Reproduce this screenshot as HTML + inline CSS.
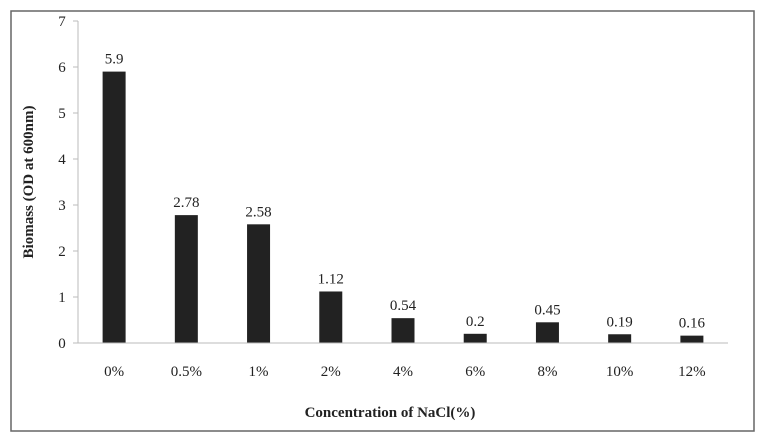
<!DOCTYPE html>
<html><head><meta charset="utf-8"><style>
html,body{margin:0;padding:0;background:#fff;}
svg text{font-family:"Liberation Serif",serif;fill:#222;}
</style></head><body>
<svg width="768" height="443" id="c">
<rect x="11" y="11" width="743" height="420" fill="#fff" stroke="#666" stroke-width="1.5"/>
<g id="plot"></g>
<text x="33" y="182" font-size="15" font-weight="bold" text-anchor="middle" transform="rotate(-90 33 182)">Biomass (OD at 600nm)</text>
<text x="390" y="417" font-size="15" font-weight="bold" text-anchor="middle">Concentration of NaCl(%)</text>
</svg>
<script>
const categories=["0%","0.5%","1%","2%","4%","6%","8%","10%","12%"];
const values=[5.9,2.78,2.58,1.12,0.54,0.2,0.45,0.19,0.16];
const valueLabels=["5.9","2.78","2.58","1.12","0.54","0.2","0.45","0.19","0.16"];
const yTicks=[0,1,2,3,4,5,6,7];
const NS="http://www.w3.org/2000/svg";
const g=document.getElementById('plot');
const x0=78,x1=728,y0=343,yTop=21,yMax=7;
const bw=(x1-x0)/categories.length;
function y(v){return y0-(v/yMax)*(y0-yTop);}
function xc(i){return x0+bw*(i+0.5);}
function mk(t,a){const e=document.createElementNS(NS,t);for(const k in a)e.setAttribute(k,a[k]);g.appendChild(e);return e;}
let ax=mk('line',{x1:x0,y1:y(yMax),x2:x0,y2:y0,stroke:'#bbb','stroke-width':1});


yTicks.forEach(t=>{
 const tl=mk('line',{x1:x0-5,y1:y(t),x2:x0,y2:y(t),stroke:'#bbb'});
 
 
 const tx=mk('text',{x:62,y:y(t)+5,'font-size':15,'text-anchor':'middle'});
 tx.textContent=t;
 
 
});
categories.forEach((c,i)=>{
 const b=mk('rect',{x:xc(i)-11.5,y:y(values[i]),width:23,height:y0-y(values[i]),fill:'#222'});
 
 
 const v=mk('text',{x:xc(i),y:y(values[i])-8,'font-size':15,'text-anchor':'middle'});
 v.textContent=valueLabels[i];
 
 
 const l=mk('text',{x:xc(i),y:376,'font-size':15,'text-anchor':'middle'});
 l.textContent=c;
 
 
});
const xa=mk('line',{x1:x0,y1:y0,x2:x1,y2:y0,stroke:'#bbb','stroke-width':1});


</script>
</body></html>
